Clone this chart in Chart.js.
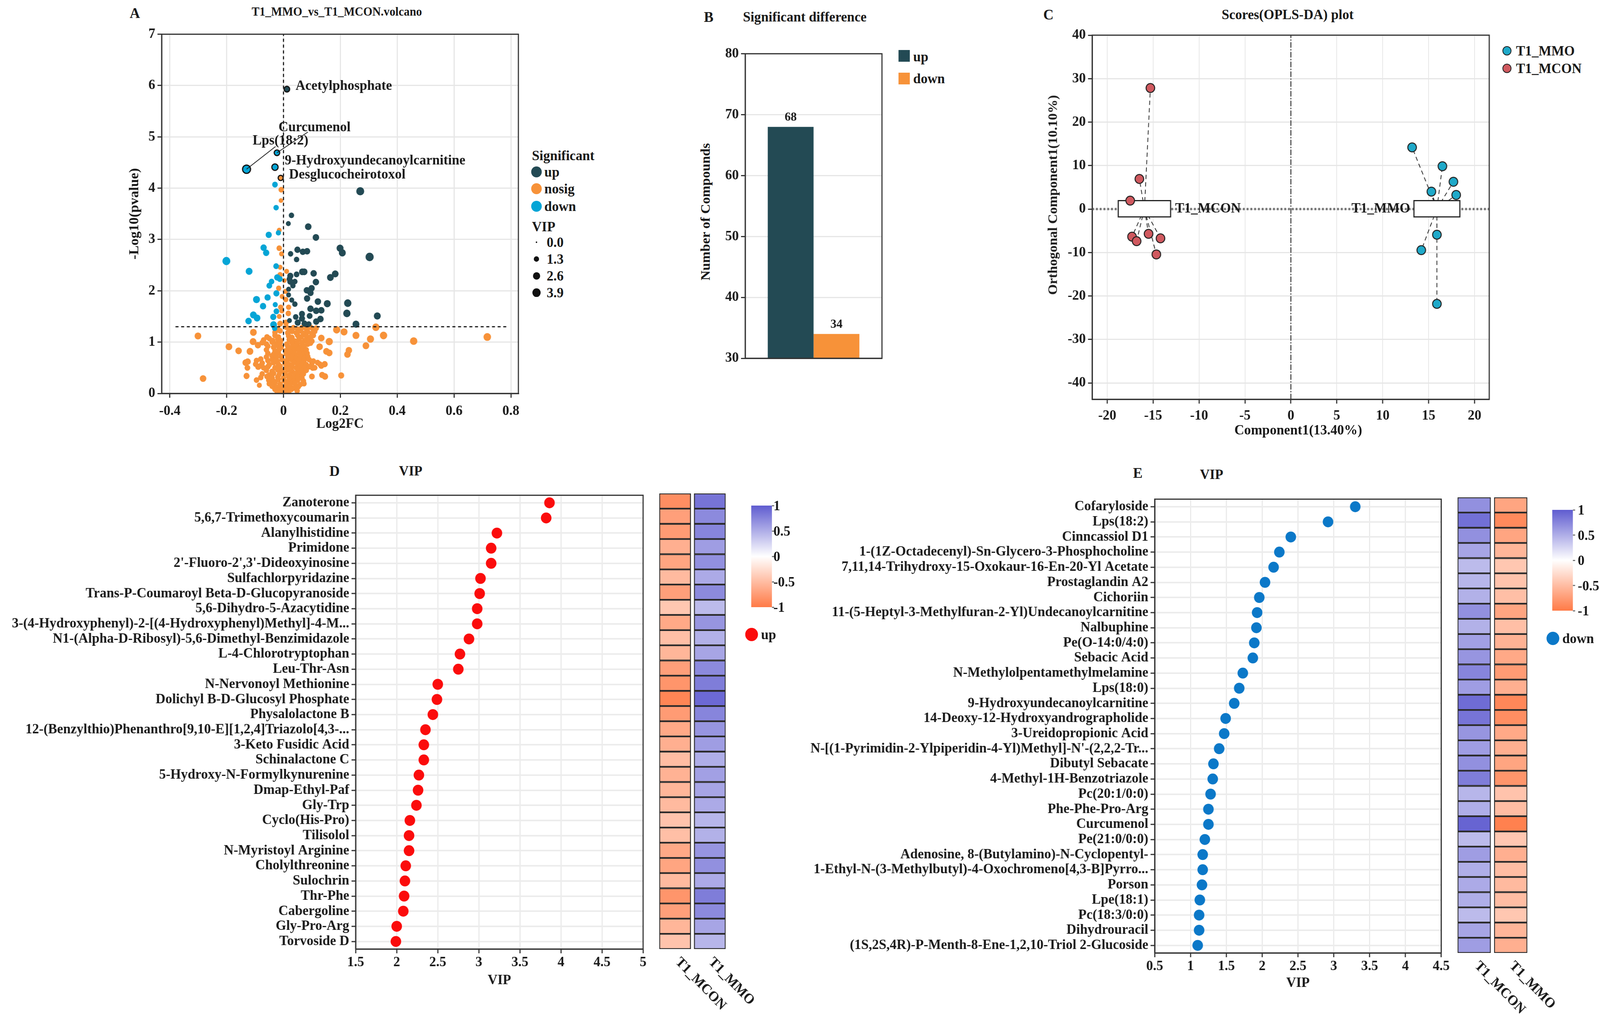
<!DOCTYPE html>
<html>
<head>
<meta charset="utf-8">
<title>T1_MMO vs T1_MCON</title>
<script src="https://cdn.jsdelivr.net/npm/chart.js@4/dist/chart.umd.min.js"></script>
<style>
  html, body { margin: 0; padding: 0; background: #fff; overflow: hidden; }
  #page { position: relative; width: 4247px; height: 2603px; overflow: hidden; background: #fff; transform-origin: 0 0;
          font-family: "Liberation Serif", serif; font-weight: bold; color: #1a1a1a; }
  #page canvas { position: absolute; }
  .txt { position: absolute; white-space: nowrap; line-height: 1; }
  .dot { position: absolute; border-radius: 50%; transform: translate(-50%, -50%); }
  .swatch { position: absolute; }
</style>
</head>
<body>
<div id="page"></div>
<script>
// ---- panel A : volcano, [log2fc, -log10p, vip] ----
const volcanoUp = [
  [0.27,3.94,3.6],[0.028,3.47,1.3],[0.017,3.31,1.0],[0.087,3.25,2.2],[0.114,3.04,2.2],[0.049,2.80,1.9],
  [0.068,2.76,1.9],[0.083,2.77,2.0],[0.025,2.72,1.3],[0.046,2.61,1.3],[0.199,2.83,2.6],[0.207,2.74,2.6],
  [0.303,2.66,3.8],[0.066,2.37,2.2],[0.073,2.37,2.2],[0.106,2.34,2.1],[0.046,2.32,1.5],[0.024,2.29,1.9],
  [0.021,2.23,1.6],[0.040,2.18,1.3],[0.024,2.18,1.9],[0.033,2.10,1.3],[0.114,2.17,2.1],[0.182,2.33,2.4],
  [0.165,2.26,2.4],[0.018,2.03,1.0],[0.099,2.05,2.0],[0.082,2.01,2.0],[0.095,1.96,2.0],[0.083,1.85,2.0],
  [0.018,1.92,1.0],[0.029,1.82,1.1],[0.040,1.74,1.3],[0.121,1.79,2.1],[0.154,1.75,2.6],[0.226,1.76,3.0],
  [0.223,1.56,3.0],[0.330,1.51,2.6],[0.255,1.35,2.6],[0.095,1.65,2.1],[0.115,1.61,2.1],[0.133,1.62,2.1],
  [0.065,1.55,1.8],[0.092,1.51,1.6],[0.043,1.49,1.4],[0.065,1.46,1.9],[0.130,1.45,2.1],[0.115,1.40,2.0],
  [0.021,1.42,1.0],[0.050,1.38,1.8],[0.074,1.36,1.8],[0.089,1.35,1.4]
];
const volcanoDown = [
  [-0.03,4.07,1.5],[-0.026,3.62,1.3],[-0.052,3.09,1.9],[-0.018,3.13,1.2],[-0.070,2.84,2.0],[-0.061,2.74,2.0],
  [-0.201,2.58,3.6],[-0.121,2.38,2.5],[-0.026,2.48,1.5],[-0.022,2.26,1.9],[-0.013,2.23,1.6],[-0.042,2.18,1.4],
  [-0.050,2.10,1.6],[-0.025,1.95,1.8],[-0.056,1.87,1.9],[-0.095,1.83,2.6],[-0.072,1.70,2.0],[-0.029,1.73,1.1],
  [-0.025,1.60,1.5],[-0.106,1.53,2.4],[-0.093,1.47,2.4],[-0.036,1.49,1.9],[-0.123,1.41,2.1],[-0.035,1.34,2.4],
  [-0.031,1.27,1.3]
];
const volcanoNosig = [
  [-0.009,3.76,0.8],[-0.008,3.97,1.4],[-0.015,3.18,1.0],[-0.015,2.83,1.4],[-0.007,2.72,1.0],[-0.012,2.46,1.0],
  [0.011,2.38,1.0],[-0.012,2.31,1.4],[0.003,2.20,0.8],[-0.017,2.05,1.2],[0.007,1.99,1.0],[-0.005,1.89,1.0],
  [0.008,1.83,1.2],[-0.010,1.68,1.2],[0.018,1.68,1.2],[-0.006,1.61,1.0],[0.017,1.56,1.4],[-0.015,1.50,1.0],
  [-0.012,1.36,1.6],[0.009,1.38,1.6],
  [-0.301,1.12,2.4],[-0.192,0.91,2.4],[-0.158,0.83,2.2],[-0.118,0.82,2.4],[-0.106,1.19,2.4],[-0.107,1.01,2.4],
  [-0.090,0.94,2.0],[-0.283,0.29,2.2],[-0.130,0.34,1.8],[-0.095,0.26,1.4],[-0.085,0.16,1.1],[0.187,1.24,2.8],
  [0.213,1.20,2.6],[0.255,1.13,2.6],[0.325,1.29,3.0],[0.352,1.13,3.0],[0.306,1.06,2.8],[0.290,0.93,2.4],
  [0.230,0.84,2.2],[0.225,0.76,2.2],[0.458,1.02,3.0],[0.717,1.10,3.2],[0.133,1.08,2.2],[0.161,1.01,2.8],
  [0.127,0.91,2.2],[0.151,0.82,2.2],[0.161,0.79,2.2],[0.203,0.35,1.8],[0.100,0.33,1.6],[0.136,0.36,1.8],
  [0.146,0.33,2.0],[-0.133,0.60,2.2],[-0.126,0.62,2.0],[-0.127,0.50,1.6],[-0.089,0.52,1.8],[0.103,0.50,1.8],
  [0.145,0.57,1.8],[0.133,0.54,1.8]
];
// the crowded cloud under the threshold, all of it about the same size
const nosigCloudVip = 1.4;
const nosigCloud = [
  [-0.03,1.28],[-0.02,1.25],[0.01,1.29],[0.02,1.26],[0.035,1.28],[0.05,1.25],[0.065,1.28],[0.08,1.26],[0.095,1.29],[0.105,1.25],[0.115,1.27],
  [-0.03,1.19],[-0.012,1.22],[0.015,1.18],[0.03,1.21],[0.045,1.18],[0.06,1.22],[0.07,1.17],[0.085,1.2],[0.1,1.17],[0.11,1.21],
  [-0.058,1.1],[-0.03,1.13],[-0.018,1.1],[0.018,1.12],[0.03,1.09],[0.05,1.13],[0.062,1.1],[0.08,1.12],[0.095,1.1],[0.105,1.13],
  [-0.07,1.04],[-0.05,1.07],[-0.038,1.03],[-0.02,1.06],[-0.01,1.03],[0.02,1.05],[0.04,1.02],[0.055,1.06],[0.075,1.03],[0.09,1.05],[0.1,1.02],
  [-0.075,0.99],[-0.06,0.96],[-0.04,1.0],[-0.025,0.97],[-0.012,0.99],[0.012,0.96],[0.03,0.99],[0.048,0.97],[0.065,0.99],[0.085,0.96],[0.095,0.98],
  [-0.055,0.92],[-0.035,0.9],[-0.02,0.93],[-0.008,0.9],[0.015,0.92],[0.03,0.9],[0.045,0.93],[0.06,0.9],[0.072,0.92],
  [-0.06,0.85],[-0.03,0.83],[-0.015,0.86],[0.008,0.83],[0.022,0.86],[0.038,0.84],[0.052,0.86],[0.067,0.83],[0.08,0.85],
  [-0.055,0.78],[-0.035,0.76],[-0.018,0.79],[0.01,0.77],[0.025,0.79],[0.04,0.76],[0.055,0.79],[0.07,0.77],[0.083,0.78],
  [-0.06,0.71],[-0.04,0.73],[-0.025,0.7],[-0.008,0.72],[0.015,0.7],[0.03,0.73],[0.045,0.7],[0.06,0.72],[0.075,0.7],[0.085,0.72],
  [-0.095,0.64],[-0.08,0.67],[-0.055,0.64],[-0.04,0.66],[-0.022,0.63],[-0.005,0.66],[0.012,0.64],[0.028,0.66],[0.042,0.63],[0.058,0.66],[0.072,0.64],[0.09,0.66],[0.105,0.63],
  [-0.098,0.57],[-0.075,0.59],[-0.05,0.56],[-0.035,0.6],[-0.018,0.57],[0.005,0.59],[0.02,0.56],[0.036,0.6],[0.05,0.57],[0.066,0.59],[0.08,0.56],[0.1,0.59],[0.12,0.6],[0.128,0.57],
  [-0.085,0.53],[-0.07,0.5],[-0.055,0.52],[-0.03,0.5],[-0.012,0.53],[0.01,0.5],[0.03,0.52],[0.045,0.5],[0.06,0.53],[0.075,0.5],[0.09,0.52],[0.11,0.5],
  [-0.06,0.45],[-0.04,0.43],[-0.02,0.46],[-0.005,0.44],[0.015,0.46],[0.03,0.43],[0.05,0.46],[0.065,0.44],[0.08,0.45],
  [-0.075,0.38],[-0.05,0.36],[-0.035,0.39],[-0.015,0.37],[0.005,0.39],[0.022,0.36],[0.04,0.39],[0.055,0.37],[0.07,0.38],
  [-0.08,0.31],[-0.058,0.33],[-0.04,0.3],[-0.02,0.32],[0.0,0.3],[0.018,0.33],[0.035,0.31],[0.05,0.33],[0.065,0.3],
  [-0.052,0.26],[-0.035,0.24],[-0.018,0.27],[0.002,0.25],[0.02,0.27],[0.035,0.24],[0.05,0.26],[0.07,0.24],
  [-0.05,0.19],[-0.03,0.21],[-0.012,0.18],[0.01,0.21],[0.025,0.19],[0.04,0.2],[0.058,0.17],[0.072,0.19],
  [-0.04,0.14],[-0.025,0.12],[-0.01,0.15],[0.005,0.13],[0.022,0.15],[0.038,0.11],[0.052,0.13],
  [-0.03,0.08],[-0.018,0.06],[-0.004,0.09],[0.012,0.07],[0.028,0.08],[0.048,0.05],
  [-0.022,0.03],[-0.01,0.02],[0.006,0.04],[0.018,0.02]
];
const volcanoLabelNames = ['Acetylphosphate', 'Curcumenol', 'Lps(18:2)', '9-Hydroxyundecanoylcarnitine', 'Desglucocheirotoxol'];
const volcanoLabelX = [0.012, -0.023, -0.13, -0.03, -0.01];
const volcanoLabelY = [5.93, 4.69, 4.37, 4.41, 4.2];
const volcanoLabelVip = [1.4, 1.4, 3.7, 2.0, 1.1];
const volcanoLabelClass = ['up', 'down', 'down', 'down', 'nosig'];
const volcanoXTicks = [-0.4, -0.2, 0, 0.2, 0.4, 0.6, 0.8];
const volcanoYTicks = [0, 1, 2, 3, 4, 5, 6, 7];
const vipLegend = [0.0, 1.3, 2.6, 3.9];

// ---- panel B ----
const diffCategories = [''];
const diffUp = [68];
const diffDown = [34];
const diffTicks = [30, 40, 50, 60, 70, 80];

// ---- panel C ----
const scoresMmo = [[13.2,14.18],[16.5,9.84],[17.7,6.28],[15.3,4.0],[18.0,3.24],[15.9,-5.9],[14.2,-9.46],[15.9,-21.8]];
const scoresMcon = [[-15.3,27.85],[-16.5,6.93],[-17.5,1.94],[-17.3,-6.35],[-16.8,-7.38],[-15.5,-5.7],[-14.2,-6.74],[-14.65,-10.43]];
const mmoBox = [13.4, 18.4, -1.8, 1.94];
const mconBox = [-18.8, -13.1, -1.8, 1.94];
const scoresXTicks = [-20, -15, -10, -5, 0, 5, 10, 15, 20];
const scoresYTicks = [-40, -30, -20, -10, 0, 10, 20, 30, 40];

// ---- panel D ----
const upNames = ['Zanoterone','5,6,7-Trimethoxycoumarin','Alanylhistidine','Primidone',"2'-Fluoro-2',3'-Dideoxyinosine",
  'Sulfachlorpyridazine','Trans-P-Coumaroyl Beta-D-Glucopyranoside','5,6-Dihydro-5-Azacytidine',
  '3-(4-Hydroxyphenyl)-2-[(4-Hydroxyphenyl)Methyl]-4-M...','N1-(Alpha-D-Ribosyl)-5,6-Dimethyl-Benzimidazole',
  'L-4-Chlorotryptophan','Leu-Thr-Asn','N-Nervonoyl Methionine','Dolichyl B-D-Glucosyl Phosphate','Physalolactone B',
  '12-(Benzylthio)Phenanthro[9,10-E][1,2,4]Triazolo[4,3-...','3-Keto Fusidic Acid','Schinalactone C',
  '5-Hydroxy-N-Formylkynurenine','Dmap-Ethyl-Paf','Gly-Trp','Cyclo(His-Pro)','Tilisolol','N-Myristoyl Arginine',
  'Cholylthreonine','Sulochrin','Thr-Phe','Cabergoline','Gly-Pro-Arg','Torvoside D'];
const upVip = [3.86,3.82,3.22,3.15,3.15,3.02,3.01,2.98,2.98,2.88,2.77,2.75,2.50,2.49,2.44,2.35,2.33,2.33,2.27,2.26,2.24,2.16,2.15,2.15,2.11,2.10,2.09,2.08,2.00,1.99];
const upHeatMcon = [-0.85,-0.72,-0.75,-0.6,-0.68,-0.52,-0.72,-0.42,-0.65,-0.48,-0.55,-0.72,-0.8,-0.92,-0.75,-0.65,-0.6,-0.5,-0.58,-0.55,-0.52,-0.45,-0.48,-0.65,-0.68,-0.52,-0.8,-0.72,-0.55,-0.45];
const upHeatMmo = [0.85,0.72,0.75,0.6,0.68,0.52,0.72,0.42,0.65,0.48,0.55,0.72,0.8,0.92,0.75,0.65,0.6,0.5,0.58,0.55,0.52,0.45,0.48,0.65,0.68,0.52,0.8,0.72,0.55,0.45];
const upVipTicks = [1.5, 2, 2.5, 3, 3.5, 4, 4.5, 5];

// ---- panel E ----
const downNames = ['Cofaryloside','Lps(18:2)','Cinncassiol D1','1-(1Z-Octadecenyl)-Sn-Glycero-3-Phosphocholine',
  '7,11,14-Trihydroxy-15-Oxokaur-16-En-20-Yl Acetate','Prostaglandin A2','Cichoriin',
  '11-(5-Heptyl-3-Methylfuran-2-Yl)Undecanoylcarnitine','Nalbuphine','Pe(O-14:0/4:0)','Sebacic Acid',
  'N-Methylolpentamethylmelamine','Lps(18:0)','9-Hydroxyundecanoylcarnitine','14-Deoxy-12-Hydroxyandrographolide',
  '3-Ureidopropionic Acid',"N-[(1-Pyrimidin-2-Ylpiperidin-4-Yl)Methyl]-N'-(2,2,2-Tr...",'Dibutyl Sebacate',
  '4-Methyl-1H-Benzotriazole','Pc(20:1/0:0)','Phe-Phe-Pro-Arg','Curcumenol','Pe(21:0/0:0)',
  'Adenosine, 8-(Butylamino)-N-Cyclopentyl-','1-Ethyl-N-(3-Methylbutyl)-4-Oxochromeno[4,3-B]Pyrro...','Porson',
  'Lpe(18:1)','Pc(18:3/0:0)','Dihydrouracil','(1S,2S,4R)-P-Menth-8-Ene-1,2,10-Triol 2-Glucoside'];
const downVip = [3.30,2.92,2.40,2.24,2.16,2.04,1.96,1.93,1.92,1.89,1.87,1.73,1.68,1.61,1.49,1.47,1.40,1.32,1.31,1.28,1.25,1.25,1.20,1.17,1.17,1.16,1.13,1.12,1.12,1.10];
const downHeatMcon = [0.68,0.88,0.68,0.55,0.42,0.45,0.48,0.68,0.48,0.58,0.65,0.75,0.6,0.9,0.85,0.65,0.6,0.68,0.8,0.45,0.5,0.95,0.42,0.6,0.5,0.52,0.5,0.42,0.55,0.6];
const downHeatMmo = [-0.68,-0.88,-0.68,-0.55,-0.42,-0.45,-0.48,-0.68,-0.48,-0.58,-0.65,-0.75,-0.6,-0.9,-0.85,-0.65,-0.6,-0.68,-0.8,-0.45,-0.5,-0.95,-0.42,-0.6,-0.5,-0.52,-0.5,-0.42,-0.55,-0.6];
const downVipTicks = [0.5, 1, 1.5, 2, 2.5, 3, 3.5, 4, 4.5];

const heatColumns = ['T1_MCON', 'T1_MMO'];
const heatLegendTicks = [1, 0.5, 0, -0.5, -1];

const UP = '#234a54', NOSIG = '#f79239', DOWN = '#05a5d6';
const INK = '#1a1a1a', FRAME = '#333', GRID = '#e6e6e6';
const HEAT_POS = [95, 92, 208], HEAT_NEG = [255, 122, 70];
const FONT_SIZE = 36;

Chart.defaults.font.family = '"Liberation Serif", serif';
Chart.defaults.font.weight = 'bold';
Chart.defaults.font.size = FONT_SIZE;
Chart.defaults.color = INK;
Chart.defaults.animation = false;
Chart.defaults.responsive = false;
Chart.defaults.devicePixelRatio = 1;
Chart.defaults.plugins.legend.display = false;
Chart.defaults.plugins.tooltip.enabled = false;

const page = document.getElementById('page');
// the window can come up narrower than the page: squeeze the page across so nothing is cut off
if (window.innerWidth < 4247) page.style.transform = 'scaleX(' + (window.innerWidth / 4247) + ')';

function addText(text, x, y, opt) {
    opt = opt || {};
    const el = document.createElement('div');
    el.className = 'txt';
    el.textContent = text;
    el.style.left = x + 'px';
    el.style.top = y + 'px';
    el.style.fontSize = (opt.size || FONT_SIZE) + 'px';
    const dx = { l: '0', c: '-50%', r: '-100%' }[opt.anchor || 'l'];
    el.style.transform = 'translate(' + dx + ',-50%)' + (opt.rotate ? ' rotate(' + opt.rotate + 'deg)' : '');
    if (opt.rotate) el.style.transformOrigin = '50% 50%';
    page.appendChild(el);
}

function addDot(x, y, r, color, border) {
    const el = document.createElement('div');
    el.className = 'dot';
    el.style.left = x + 'px';
    el.style.top = y + 'px';
    el.style.width = el.style.height = (2 * r) + 'px';
    el.style.background = color;
    if (border) { el.style.border = '2.5px solid ' + border; el.style.boxSizing = 'border-box'; }
    page.appendChild(el);
}

function addSwatch(x, y, w, h, background) {
    const el = document.createElement('div');
    el.className = 'swatch';
    el.style.cssText = 'left:' + x + 'px;top:' + y + 'px;width:' + w + 'px;height:' + h + 'px;background:' + background;
    page.appendChild(el);
}

function addCanvas(box) {
    const c = document.createElement('canvas');
    c.width = box.w;
    c.height = box.h;
    c.style.left = box.x + 'px';
    c.style.top = box.y + 'px';
    c.style.width = box.w + 'px';
    c.style.height = box.h + 'px';
    page.appendChild(c);
    return c.getContext('2d');
}

// padding and scale sizes that put the plot area at page position `plot`
function plotFit(box, plot) {
    return {
        padding: { top: plot.t - box.y, right: box.x + box.w - plot.r, left: 0, bottom: 0 },
        fitLeft: s => { s.width = plot.l - box.x; },
        fitBottom: s => { s.height = box.y + box.h - plot.b; }
    };
}

const framePlugin = {
    id: 'frame',
    afterDraw(chart) {
        const a = chart.chartArea, ctx = chart.ctx;
        ctx.save();
        ctx.strokeStyle = FRAME;
        ctx.lineWidth = 3;
        ctx.strokeRect(a.left, a.top, a.width, a.height);
        ctx.restore();
    }
};

function fixedTicks(values) {
    return s => { s.ticks = values.map(v => ({ value: v })); };
}

function linearAxis(min, max, ticks, extra, tickPad) {
    return Object.assign({
        type: 'linear', min, max,
        afterBuildTicks: fixedTicks(ticks),
        grid: { color: GRID, lineWidth: 3, tickColor: FRAME, tickLength: 11, tickWidth: 3 },
        border: { display: true, color: FRAME, width: 3 },
        ticks: { autoSkip: false, maxRotation: 0, padding: tickPad === undefined ? 6 : tickPad, callback: v => String(v) }
    }, extra);
}

function lineSet(points, color, width, dash, order) {
    return { data: points, showLine: true, pointRadius: 0, borderColor: color, borderWidth: width, borderDash: dash, order, fill: false };
}

const vipRadius = vip => 2 + 4.5 * Math.sqrt(vip);
const toXY = list => list.map(p => ({ x: p[0], y: p[1], vip: p[2] }));
const pointSize = ctx => vipRadius(ctx.raw.vip);

// ---------------- A : volcano ----------------
function drawVolcano() {
    const box = { x: 336, y: 60, w: 1070, h: 1047 };
    const plot = { l: 429, r: 1376, t: 81, b: 1007 };
    const fit = plotFit(box, plot);
    const labelOffsets = [[23, -7], [4, -64], [16, -72], [26, -16], [22, -8]];
    const leaders = { 1: [82, -53], 2: [77, -58] };
    const labelPlugin = {
        id: 'volcanoLabels',
        afterDatasetsDraw(chart) {
            const ctx = chart.ctx, sx = chart.scales.x, sy = chart.scales.y;
            ctx.save();
            ctx.font = 'bold ' + FONT_SIZE + 'px "Liberation Serif"';
            ctx.fillStyle = INK;
            ctx.textBaseline = 'middle';
            volcanoLabelNames.forEach((name, i) => {
                const px = sx.getPixelForValue(volcanoLabelX[i]), py = sy.getPixelForValue(volcanoLabelY[i]);
                if (leaders[i]) {
                    ctx.strokeStyle = INK;
                    ctx.lineWidth = 2;
                    ctx.beginPath();
                    ctx.moveTo(px, py);
                    ctx.lineTo(px + leaders[i][0], py + leaders[i][1]);
                    ctx.stroke();
                }
                ctx.fillText(name, px + labelOffsets[i][0], py + labelOffsets[i][1]);
            });
            ctx.restore();
        }
    };
    const classColor = { up: UP, down: DOWN, nosig: NOSIG };
    const cloud = nosigCloud.map(p => [p[0], p[1], nosigCloudVip]);
    const labeled = volcanoLabelNames.map((n, i) => ({ x: volcanoLabelX[i], y: volcanoLabelY[i], vip: volcanoLabelVip[i] }));
    new Chart(addCanvas(box), {
        type: 'scatter',
        data: {
            datasets: [
                lineSet([{ x: 0, y: 0 }, { x: 0, y: 7 }], INK, 3, [8, 7], 0),
                lineSet([{ x: -0.38, y: 1.3 }, { x: 0.79, y: 1.3 }], INK, 3, [8, 7], 0),
                { data: labeled, pointRadius: pointSize, order: 1, pointBorderColor: '#111', pointBorderWidth: 3,
                  pointBackgroundColor: volcanoLabelClass.map(c => classColor[c]) },
                { data: toXY(volcanoUp), pointRadius: pointSize, pointBackgroundColor: UP, pointBorderWidth: 0, order: 2 },
                { data: toXY(volcanoDown), pointRadius: pointSize, pointBackgroundColor: DOWN, pointBorderWidth: 0, order: 3 },
                { data: toXY(volcanoNosig.concat(cloud)), pointRadius: pointSize, pointBackgroundColor: NOSIG, pointBorderWidth: 0, order: 4 }
            ]
        },
        options: {
            layout: { padding: fit.padding },
            scales: {
                x: linearAxis(-0.4288, 0.8265, volcanoXTicks, { afterFit: fit.fitBottom, title: { display: true, text: 'Log2FC', padding: 0 } }, 13),
                y: linearAxis(0, 7, volcanoYTicks, { afterFit: fit.fitLeft, title: { display: true, text: '-Log10(pvalue)', padding: 0 } })
            }
        },
        plugins: [framePlugin, labelPlugin]
    });

    addText('A', 358, 33, { anchor: 'c', size: 38 });
    addText('T1_MMO_vs_T1_MCON.volcano', 894, 29, { anchor: 'c', size: 31 });
    addText('Significant', 1412, 398);
    [['up', UP, 440], ['nosig', NOSIG, 483], ['down', DOWN, 528]].forEach(r => {
        addDot(1424, r[2], 14, r[1]);
        addText(r[0], 1445, r[2]);
    });
    addText('VIP', 1412, 580);
    vipLegend.forEach((v, i) => {
        const y = 620 + i * 43;
        addDot(1424, y, vipRadius(v), '#111');
        addText(v.toFixed(1), 1451, y);
    });
}

// ---------------- B : bars ----------------
function drawDiff() {
    const box = { x: 1900, y: 110, w: 460, h: 860 };
    const plot = { l: 1978, r: 2341, t: 133, b: 917 };
    const fit = plotFit(box, plot);
    const valuePlugin = {
        id: 'barValues',
        afterDatasetsDraw(chart) {
            const ctx = chart.ctx;
            ctx.save();
            ctx.font = 'bold 32px "Liberation Serif"';
            ctx.fillStyle = INK;
            ctx.textAlign = 'center';
            ctx.textBaseline = 'bottom';
            chart.data.datasets.forEach((ds, i) => {
                const bar = chart.getDatasetMeta(i).data[0];
                ctx.fillText(String(ds.data[0]), bar.x, bar.y - 8);
            });
            ctx.restore();
        }
    };
    new Chart(addCanvas(box), {
        type: 'bar',
        data: {
            labels: diffCategories,
            datasets: [
                { label: 'up', data: diffUp, backgroundColor: UP },
                { label: 'down', data: diffDown, backgroundColor: NOSIG }
            ]
        },
        options: {
            layout: { padding: fit.padding },
            datasets: { bar: { categoryPercentage: 0.67, barPercentage: 1 } },
            scales: {
                x: { afterFit: fit.fitBottom, grid: { display: false, tickColor: FRAME, tickLength: 11, tickWidth: 3 },
                     border: { display: true, color: FRAME, width: 3 }, ticks: { autoSkip: false } },
                y: linearAxis(30, 80, diffTicks, { afterFit: fit.fitLeft })
            }
        },
        plugins: [framePlugin, valuePlugin]
    });
    addText('B', 1881, 43, { anchor: 'c', size: 38 });
    addText('Significant difference', 1972, 43);
    addText('Number of Compounds', 1873, 542, { anchor: 'c', rotate: -90, size: 35 });
    addSwatch(2385, 128, 30, 30, UP);
    addText('up', 2424, 145);
    addSwatch(2385, 186, 30, 30, NOSIG);
    addText('down', 2424, 201);
}

// ---------------- C : scores ----------------
function drawScores() {
    const box = { x: 2810, y: 60, w: 1170, h: 1030 };
    const plot = { l: 2899, r: 3953, t: 90, b: 1022 };
    const fit = plotFit(box, plot);
    const MMO = '#1fa9c9', MCON = '#d0595f';
    const mean = (a, b) => (a + b) / 2;
    const spokes = (list, b) => list.map(p => lineSet(
        [{ x: mean(b[0], b[1]), y: mean(b[2], b[3]) }, { x: p[0], y: p[1] }], '#222', 2, [11, 8], 5));
    const boxPlugin = {
        id: 'groupBoxes',
        // boxes sit on the spokes, the sample dots sit on the boxes
        beforeDatasetDraw(chart, args) {
            if (args.index !== chart.data.datasets.length - 1) return;
            const ctx = chart.ctx, sx = chart.scales.x, sy = chart.scales.y;
            ctx.save();
            [mconBox, mmoBox].forEach(b => {
                const x0 = sx.getPixelForValue(b[0]), x1 = sx.getPixelForValue(b[1]);
                const y0 = sy.getPixelForValue(b[3]), y1 = sy.getPixelForValue(b[2]);
                ctx.fillStyle = '#fff';
                ctx.strokeStyle = '#222';
                ctx.lineWidth = 3;
                ctx.fillRect(x0, y0, x1 - x0, y1 - y0);
                ctx.strokeRect(x0, y0, x1 - x0, y1 - y0);
            });
            ctx.font = 'bold ' + FONT_SIZE + 'px "Liberation Serif"';
            ctx.fillStyle = INK;
            ctx.textBaseline = 'middle';
            ctx.textAlign = 'left';
            ctx.fillText('T1_MCON', sx.getPixelForValue(mconBox[1]) + 12, sy.getPixelForValue(0));
            ctx.textAlign = 'right';
            ctx.fillText('T1_MMO', sx.getPixelForValue(mmoBox[0]) - 10, sy.getPixelForValue(0));
            ctx.restore();
        }
    };
    const dots = (list, color, order) => ({
        data: list.map(p => ({ x: p[0], y: p[1] })), pointRadius: 11.5, pointBackgroundColor: color,
        pointBorderColor: '#222', pointBorderWidth: 2.5, order
    });
    new Chart(addCanvas(box), {
        type: 'scatter',
        data: {
            datasets: [
                dots(scoresMmo, MMO, 1),
                dots(scoresMcon, MCON, 1),
                ...spokes(scoresMmo, mmoBox),
                ...spokes(scoresMcon, mconBox),
                lineSet([{ x: -21.64, y: 0 }, { x: 21.6, y: 0 }], '#777', 6, [5, 5], 7),
                lineSet([{ x: 0, y: -43.76 }, { x: 0, y: 40 }], '#333', 2.5, [14, 4, 3, 4], 6),
                // empty set that only marks where the boxes go in the draw order
                { data: [], order: 2 }
            ]
        },
        options: {
            layout: { padding: fit.padding },
            scales: {
                x: linearAxis(-21.64, 21.6, scoresXTicks, { afterFit: fit.fitBottom, grid: { color: GRID, lineWidth: 2, tickColor: FRAME, tickLength: 11, tickWidth: 3 } }, 10),
                y: linearAxis(-43.76, 40, scoresYTicks, { afterFit: fit.fitLeft })
            }
        },
        plugins: [framePlugin, boxPlugin]
    });
    addText('C', 2783, 37, { anchor: 'c', size: 38 });
    addText('Scores(OPLS-DA) plot', 3418, 37, { anchor: 'c' });
    addText('Component1(13.40%)', 3446, 1100, { anchor: 'c' });
    addText('Orthogonal Component1(10.10%)', 2794, 499, { anchor: 'c', rotate: -90, size: 35 });
    addDot(4000, 130, 12, MMO, '#222');
    addText('T1_MMO', 4024, 130);
    addDot(4000, 175, 12, MCON, '#222');
    addText('T1_MCON', 4024, 175);
}

// ---------------- D / E : VIP dots and heat strips ----------------
function heatColor(v) {
    const end = v >= 0 ? HEAT_POS : HEAT_NEG, t = Math.abs(v);
    const c = end.map(e => Math.round(255 + (e - 255) * t));
    return 'rgb(' + c.join(',') + ')';
}

function drawVip(names, vip, ticks, xmin, xmax, color, box, plot) {
    const fit = plotFit(box, plot);
    new Chart(addCanvas(box), {
        type: 'scatter',
        data: {
            labels: names,
            datasets: [{
                data: vip.map((v, i) => ({ x: v, y: names[i] })),
                pointRadius: 14, pointBackgroundColor: color, pointBorderWidth: 0
            }]
        },
        options: {
            layout: { padding: fit.padding },
            scales: {
                x: linearAxis(xmin, xmax, ticks, {
                    afterFit: fit.fitBottom,
                    grid: { color: GRID, lineWidth: 2.5, tickColor: FRAME, tickLength: 11, tickWidth: 3 },
                    title: { display: true, text: 'VIP', padding: 0 }
                }, 2),
                y: {
                    type: 'category', labels: names, offset: true, afterFit: fit.fitLeft,
                    grid: { color: '#ececec', lineWidth: 4, offset: false, tickColor: FRAME, tickLength: 11, tickWidth: 3 },
                    border: { display: true, color: FRAME, width: 3 },
                    ticks: { autoSkip: false, padding: 6 }
                }
            }
        },
        plugins: [framePlugin]
    });
}

function drawHeat(names, mcon, mmo, left, right, top, bottom) {
    const box = { x: left - 3, y: top - 5, w: right - left + 133, h: bottom - top + 170 };
    const gap = 0.049;
    const columnLabels = {
        id: 'heatColumnLabels',
        afterDraw(chart) {
            const ctx = chart.ctx, sx = chart.scales.x;
            ctx.save();
            ctx.font = 'bold ' + FONT_SIZE + 'px "Liberation Serif"';
            ctx.fillStyle = INK;
            ctx.textBaseline = 'middle';
            heatColumns.forEach((name, i) => {
                ctx.save();
                ctx.translate(sx.getPixelForValue(i + 0.5) + 4, chart.chartArea.bottom + 28);
                ctx.rotate(Math.PI / 4);
                ctx.fillText(name, 0, 0);
                ctx.restore();
            });
            ctx.restore();
        }
    };
    const cells = (values, a, b) => ({
        data: values.map(() => [a, b]),
        backgroundColor: values.map(heatColor),
        borderColor: '#2a2a2a', borderWidth: 2.5, borderSkipped: false,
        categoryPercentage: 1, barPercentage: 1, grouped: false
    });
    new Chart(addCanvas(box), {
        type: 'bar',
        data: {
            labels: names,
            datasets: [cells(mcon, 0, 1 - gap), cells(mmo, 1 + gap, 2)]
        },
        options: {
            indexAxis: 'y',
            layout: { padding: { left: 3, top: 5, right: box.w - (right - left) - 3, bottom: box.h - (bottom - top) - 5 } },
            scales: {
                x: { type: 'linear', min: 0, max: 2, display: false },
                y: { type: 'category', display: false, offset: true }
            }
        },
        plugins: [columnLabels]
    });
}

function drawHeatLegend(x, w, top, bottom, textX) {
    addSwatch(x, top, w, bottom - top,
        'linear-gradient(to bottom, rgb(' + HEAT_POS + '), #fff 50%, rgb(' + HEAT_NEG + '))');
    heatLegendTicks.forEach((t, i) => {
        const y = top + (bottom - top) * i / (heatLegendTicks.length - 1);
        addSwatch(x + w, y - 1.5, 6, 3, '#777');
        addText(String(t), textX, y);
    });
}

drawVolcano();
drawDiff();
drawScores();

drawVip(upNames, upVip, upVipTicks, 1.5, 5, '#fb0c0c', { x: 0, y: 1240, w: 1730, h: 1291 }, { l: 944, r: 1707, t: 1263, b: 2429 });
drawHeat(upNames, upHeatMcon, upHeatMmo, 1750, 1926, 1263, 2429);
drawHeatLegend(1994, 55, 1294, 1554, 2053);
addDot(1995, 1624, 17, '#fb0c0c');
addText('up', 2020, 1624);
addText('D', 888, 1205, { anchor: 'c', size: 38 });
addText('VIP', 1090, 1205, { anchor: 'c' });

drawVip(downNames, downVip, downVipTicks, 0.5, 4.5, '#0b78c8', { x: 2110, y: 1250, w: 1740, h: 1288 }, { l: 3065, r: 3829, t: 1273, b: 2439 });
drawHeat(downNames, downHeatMcon, downHeatMmo, 3869, 4054, 1273, 2439);
drawHeatLegend(4120, 55, 1305, 1563, 4188);
addDot(4122, 1634, 17, '#0b78c8');
addText('down', 4147, 1634);
addText('E', 3020, 1210, { anchor: 'c', size: 38 });
addText('VIP', 3216, 1214, { anchor: 'c' });
</script>
</body>
</html>
